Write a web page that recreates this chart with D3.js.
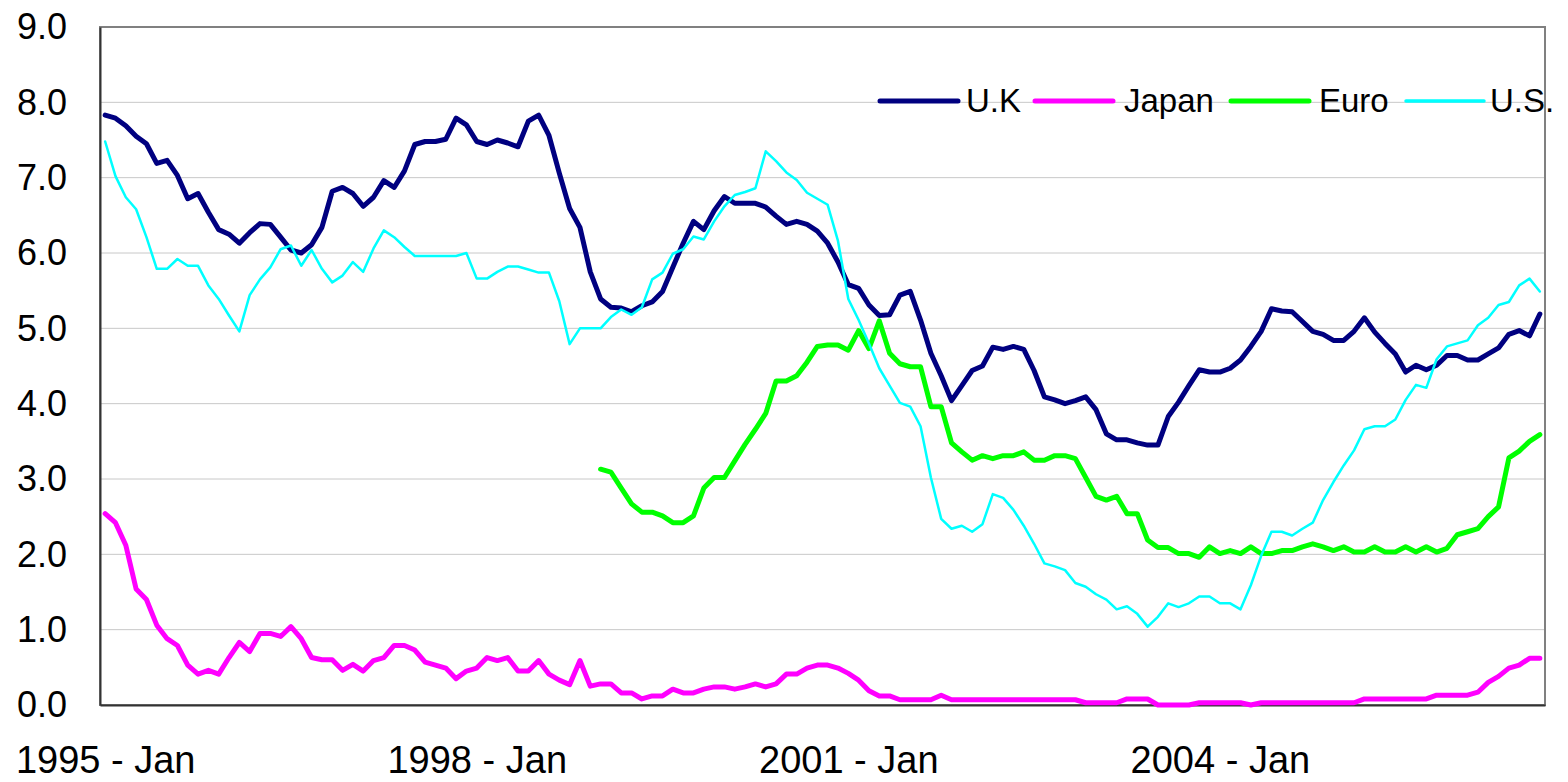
<!DOCTYPE html>
<html>
<head>
<meta charset="utf-8">
<script src="https://cdn.jsdelivr.net/npm/d3@7"></script>
<style>
  body { margin: 0; background: #fff; }
  text { font-family: "Liberation Sans", Arial, sans-serif; fill: #000; }
</style>
</head>
<body>
<div id="chart"></div>
<script>
// monthly rates, 1995 Jan .. 2006 Aug
const monthNames = ['Jan', 'Feb', 'Mar', 'Apr', 'May', 'Jun', 'Jul', 'Aug', 'Sep', 'Oct', 'Nov', 'Dec']
const firstYear = 1995
const monthCount = 140
const tickLabels = ['1995 - Jan', '1998 - Jan', '2001 - Jan', '2004 - Jan']
const yTicks = [0, 1, 2, 3, 4, 5, 6, 7, 8, 9]

const uk = [
  7.83, 7.79, 7.69, 7.55, 7.45, 7.19, 7.23, 7.03, 6.72, 6.79, 6.54, 6.31, 6.25, 6.13, 6.27, 6.39, 6.38, 6.21, 6.04, 6.00, 6.11, 6.34, 6.82, 6.87, 6.79,
  6.62, 6.74, 6.96, 6.87, 7.09, 7.44, 7.48, 7.48, 7.51, 7.79, 7.70, 7.48, 7.44, 7.50, 7.46, 7.41, 7.75, 7.83, 7.56, 7.06, 6.59, 6.34, 5.75, 5.39,
  5.28, 5.27, 5.22, 5.30, 5.35, 5.49, 5.81, 6.13, 6.42, 6.31, 6.56, 6.75, 6.66, 6.66, 6.66, 6.61, 6.49, 6.38, 6.42, 6.38, 6.29, 6.13, 5.88, 5.58,
  5.53, 5.31, 5.17, 5.18, 5.44, 5.49, 5.11, 4.67, 4.37, 4.04, 4.24, 4.44, 4.50, 4.75, 4.72, 4.76, 4.72, 4.44, 4.09, 4.05, 4.00, 4.04, 4.09, 3.92,
  3.60, 3.52, 3.52, 3.48, 3.45, 3.45, 3.83, 4.02, 4.24, 4.45, 4.42, 4.42, 4.47, 4.58, 4.76, 4.96, 5.26, 5.23, 5.22, 5.09, 4.96, 4.92, 4.84, 4.84,
  4.96, 5.14, 4.95, 4.80, 4.66, 4.42, 4.51, 4.45, 4.51, 4.64, 4.64, 4.58, 4.58, 4.66, 4.74, 4.92, 4.97, 4.90, 5.19
]

const japan = [
  2.54, 2.42, 2.12, 1.54, 1.40, 1.06, 0.88, 0.79, 0.53, 0.41, 0.46, 0.41, 0.63, 0.83, 0.71, 0.95, 0.95, 0.91, 1.04, 0.88, 0.63, 0.60, 0.60, 0.46, 0.54,
  0.45, 0.59, 0.63, 0.79, 0.79, 0.73, 0.57, 0.53, 0.49, 0.35, 0.45, 0.49, 0.63, 0.59, 0.63, 0.45, 0.45, 0.59, 0.41, 0.33, 0.27, 0.59, 0.25, 0.28,
  0.28, 0.16, 0.16, 0.08, 0.12, 0.12, 0.21, 0.16, 0.16, 0.21, 0.24, 0.24, 0.21, 0.24, 0.28, 0.24, 0.28, 0.41, 0.41, 0.49, 0.53, 0.53, 0.49, 0.42,
  0.33, 0.19, 0.12, 0.12, 0.07, 0.07, 0.07, 0.07, 0.13, 0.07, 0.07, 0.07, 0.07, 0.07, 0.07, 0.07, 0.07, 0.07, 0.07, 0.07, 0.07, 0.07, 0.03, 0.03,
  0.03, 0.03, 0.08, 0.08, 0.08, 0.00, 0.00, 0.00, 0.00, 0.03, 0.03, 0.03, 0.03, 0.03, 0.00, 0.03, 0.03, 0.03, 0.03, 0.03, 0.03, 0.03, 0.03, 0.03,
  0.03, 0.08, 0.08, 0.08, 0.08, 0.08, 0.08, 0.08, 0.13, 0.13, 0.13, 0.13, 0.17, 0.30, 0.38, 0.49, 0.53, 0.62, 0.62
]

// no euro before 1999
const euro = [
  null, null, null, null, null, null, null, null, null, null, null, null, null, null, null, null, null, null, null, null, null, null, null, null, null,
  null, null, null, null, null, null, null, null, null, null, null, null, null, null, null, null, null, null, null, null, null, null, null, 3.13,
  3.09, 2.88, 2.67, 2.56, 2.56, 2.51, 2.42, 2.42, 2.51, 2.88, 3.02, 3.02, 3.24, 3.46, 3.66, 3.87, 4.30, 4.30, 4.37, 4.55, 4.76, 4.78, 4.78, 4.71,
  4.97, 4.73, 5.10, 4.67, 4.53, 4.49, 4.49, 3.96, 3.96, 3.48, 3.36, 3.25, 3.31, 3.27, 3.31, 3.31, 3.36, 3.25, 3.25, 3.31, 3.31, 3.27, 3.02, 2.77,
  2.72, 2.77, 2.54, 2.54, 2.19, 2.09, 2.09, 2.01, 2.01, 1.96, 2.10, 2.01, 2.05, 2.01, 2.10, 2.01, 2.01, 2.05, 2.05, 2.10, 2.14, 2.10, 2.05, 2.10,
  2.03, 2.03, 2.10, 2.03, 2.03, 2.10, 2.03, 2.10, 2.03, 2.08, 2.26, 2.30, 2.34, 2.50, 2.63, 3.28, 3.37, 3.50, 3.59
]

const us = [
  7.48, 7.02, 6.74, 6.58, 6.21, 5.79, 5.79, 5.92, 5.83, 5.83, 5.57, 5.39, 5.17, 4.96, 5.44, 5.65, 5.81, 6.05, 6.10, 5.83, 6.04, 5.79, 5.61, 5.70, 5.88,
  5.75, 6.06, 6.30, 6.21, 6.08, 5.96, 5.96, 5.96, 5.96, 5.96, 6.00, 5.66, 5.66, 5.75, 5.82, 5.82, 5.78, 5.74, 5.74, 5.36, 4.79, 5.00, 5.00, 5.00,
  5.15, 5.25, 5.18, 5.28, 5.65, 5.74, 5.99, 6.05, 6.22, 6.18, 6.42, 6.62, 6.77, 6.81, 6.86, 7.35, 7.22, 7.07, 6.97, 6.80, 6.72, 6.64, 6.16, 5.39,
  5.11, 4.80, 4.47, 4.24, 4.01, 3.96, 3.70, 3.02, 2.47, 2.34, 2.38, 2.30, 2.40, 2.80, 2.75, 2.59, 2.38, 2.14, 1.88, 1.84, 1.79, 1.62, 1.57, 1.47,
  1.40, 1.27, 1.31, 1.21, 1.04, 1.17, 1.35, 1.30, 1.35, 1.44, 1.44, 1.35, 1.35, 1.27, 1.59, 1.98, 2.30, 2.30, 2.25, 2.34, 2.42, 2.72, 2.96, 3.18,
  3.38, 3.66, 3.70, 3.70, 3.79, 4.05, 4.25, 4.21, 4.59, 4.76, 4.80, 4.84, 5.04, 5.14, 5.31, 5.35, 5.57, 5.66, 5.49
]

const categories = d3.range(monthCount).map(i => `${firstYear + Math.floor(i / 12)} - ${monthNames[i % 12]}`)

const series = [
  { name: 'U.K', values: uk, color: '#000080', width: 5 },
  { name: 'Japan', values: japan, color: '#ff00ff', width: 5 },
  { name: 'Euro', values: euro, color: '#00ff00', width: 5 },
  { name: 'U.S.', values: us, color: '#00ffff', width: 2.5 }
]

const width = 1568
const height = 782
const plot = { left: 100, right: 1545, top: 27, bottom: 705 }

const svg = d3.select('#chart')
  .append('svg')
  .attr('width', width)
  .attr('height', height)

const x = d3.scalePoint()
  .domain(categories)
  .range([plot.left, plot.right])
  .padding(0.5)

const y = d3.scaleLinear()
  .domain([0, 9])
  .range([plot.bottom, plot.top])

// gridlines
svg.append('g')
  .selectAll('line')
  .data(yTicks.filter(d => d > 0 && d < 9))
  .join('line')
  .attr('x1', plot.left)
  .attr('x2', plot.right)
  .attr('y1', d => y(d))
  .attr('y2', d => y(d))
  .attr('stroke', '#c8c8c8')
  .attr('stroke-width', 1)

// plot frame
svg.append('rect')
  .attr('x', plot.left)
  .attr('y', plot.top)
  .attr('width', plot.right - plot.left)
  .attr('height', plot.bottom - plot.top)
  .attr('fill', 'none')
  .attr('stroke', '#808080')
  .attr('stroke-width', 2)

// y axis
const yAxis = svg.append('g')
  .attr('transform', `translate(${plot.left},0)`)
  .call(d3.axisLeft(y).tickValues(yTicks).tickSize(0).tickPadding(33).tickFormat(d3.format('.1f')))
yAxis.select('.domain').attr('stroke', '#333').attr('stroke-width', 2)
yAxis.selectAll('text')
  .attr('font-size', 36)
  .attr('font-family', '"Liberation Sans", Arial, sans-serif')
  .attr('dy', '0.33em')

// x axis
const xAxis = svg.append('g')
  .attr('transform', `translate(0,${plot.bottom})`)
  .call(d3.axisBottom(x).tickValues(tickLabels).tickSize(0).tickPadding(41))
xAxis.select('.domain').attr('stroke', '#333').attr('stroke-width', 2)
xAxis.selectAll('text')
  .attr('font-size', 38)
  .attr('font-family', '"Liberation Sans", Arial, sans-serif')

// lines
const line = d3.line()
  .defined(d => d != null)
  .x((d, i) => x(categories[i]))
  .y(d => y(d))

svg.append('g')
  .selectAll('path')
  .data(series)
  .join('path')
  .attr('fill', 'none')
  .attr('stroke', d => d.color)
  .attr('stroke-width', d => d.width)
  .attr('stroke-linejoin', 'round')
  .attr('stroke-linecap', 'round')
  .attr('d', d => line(d.values))

// legend
const legendPos = [
  { lx: 880, tx: 966 },
  { lx: 1035, tx: 1124 },
  { lx: 1231, tx: 1319 },
  { lx: 1406, tx: 1490 }
]
const legend = svg.append('g')
series.forEach((s, i) => {
  const p = legendPos[i]
  legend.append('line')
    .attr('x1', p.lx)
    .attr('x2', p.lx + 78)
    .attr('y1', 101)
    .attr('y2', 101)
    .attr('stroke', s.color)
    .attr('stroke-width', s.width === 5 ? 5 : 3.5)
    .attr('stroke-linecap', 'round')
  legend.append('text')
    .attr('x', p.tx)
    .attr('y', 112)
    .attr('font-size', 33)
    .text(s.name)
})
</script>
</body>
</html>
